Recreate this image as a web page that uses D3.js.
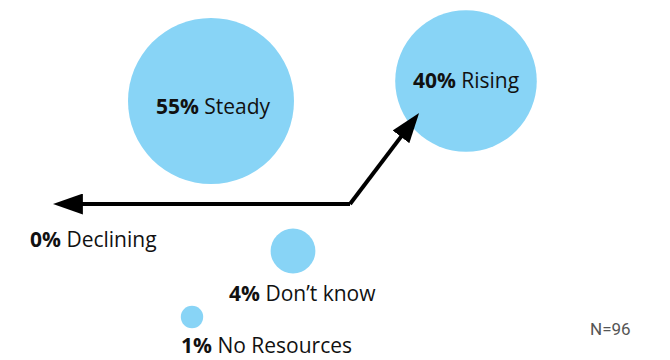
<!DOCTYPE html>
<html>
<head>
<meta charset="utf-8">
<script src="https://d3js.org/d3.v7.min.js"></script>
<style>
  body { margin: 0; background: #fff; }
  svg { display: block; font-family: "Open Sans", "Noto Sans", sans-serif; }
</style>
</head>
<body>
<svg id="chart" width="670" height="360"></svg>
<script>
// data
var categories = ["Steady", "Rising", "Declining", "Don\u2019t know", "No Resources"];
var shares = [55, 40, 0, 4, 1];
var sampleNote = "N=96";

// layout (pixel positions of bubble centres, label anchors)
var centres = [[211, 101], [466, 81], [60, 204], [293, 251], [192, 317]];
var labelPos = [[213, 114], [466, 88], [30, 247], [229, 301], [181, 353]];
var labelAnchor = ["middle", "middle", "start", "start", "start"];

var svg = d3.select("#chart");
var r = d3.scaleSqrt().domain([0, 55]).range([0, 83]);

var items = categories.map(function(c, i) {
  return { name: c, value: shares[i], c: centres[i], l: labelPos[i], a: labelAnchor[i] };
});

// arrowhead
svg.append("defs").append("marker")
  .attr("id", "head")
  .attr("viewBox", "0 0 10 7")
  .attr("refX", 7.3).attr("refY", 3.5)
  .attr("markerWidth", 7.5).attr("markerHeight", 5.25)
  .attr("markerUnits", "strokeWidth")
  .attr("orient", "auto")
  .append("path")
  .attr("d", "M0,0 L10,3.5 L0,7 Z")
  .attr("fill", "#000");

svg.selectAll("circle")
  .data(items.filter(function(d) { return d.value > 0; }))
  .enter().append("circle")
  .attr("cx", function(d) { return d.c[0]; })
  .attr("cy", function(d) { return d.c[1]; })
  .attr("r", function(d) { return r(d.value); })
  .attr("fill", "#88d4f6");

// arrow path: back towards "declining", up towards "rising"
var line = d3.line();
svg.append("path")
  .attr("d", line([[350, 204], [61, 204]]))
  .attr("stroke", "#000").attr("stroke-width", 4).attr("fill", "none")
  .attr("marker-end", "url(#head)");
svg.append("path")
  .attr("d", line([[350, 204], [414.2, 119.4]]))
  .attr("stroke", "#000").attr("stroke-width", 4).attr("fill", "none")
  .attr("marker-end", "url(#head)");

var labels = svg.selectAll("text.lab")
  .data(items)
  .enter().append("text")
  .attr("class", "lab")
  .attr("x", function(d) { return d.l[0]; })
  .attr("y", function(d) { return d.l[1]; })
  .attr("text-anchor", function(d) { return d.a; })
  .attr("font-size", 21)
  .attr("fill", "#111");
labels.append("tspan").attr("font-weight", "bold").text(function(d) { return d.value + "%"; });
labels.append("tspan").text(function(d) { return " " + d.name; });

svg.append("text")
  .attr("x", 590).attr("y", 335)
  .attr("font-size", 17)
  .attr("fill", "#555")
  .attr("font-family", "Roboto, sans-serif")
  .text(sampleNote);
</script>
</body>
</html>
